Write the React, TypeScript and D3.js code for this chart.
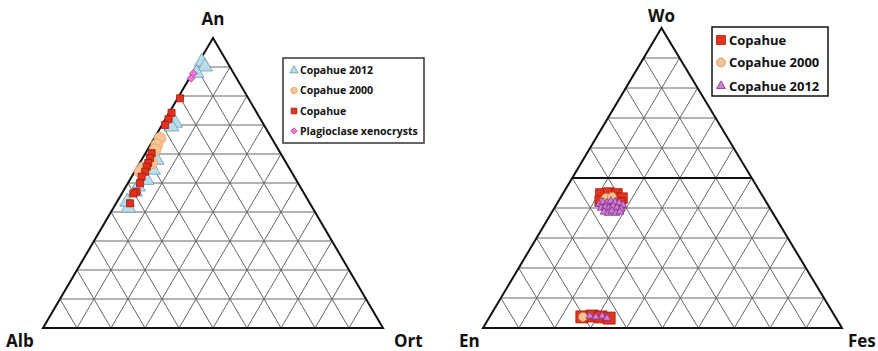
import React, { useEffect, useRef } from "react";
import * as d3 from "d3";

// ---- feldspar diagram data: [An %, Or %]
const fspCopahue2012 = [
  [91.8, 0.8], [90.1, 2.6], [87.9, 1.2], [70.7, 3.5], [69.4, 3.1], [57.9, 4.5],
  [54.5, 5.1], [51.0, 5.0], [48.7, 3.6], [47.0, 3.6], [41.4, 4.4], [43.5, 3.0],
];
const fspCopahue2000 = [
  [65.4, 1.7], [63.1, 1.9], [61.4, 2.2], [56.9, 3.5], [55.2, 1.8], [53.9, 1.6],
];
const fspCopahue = [
  [79.2, 0.7], [74.2, 0.7], [72.0, 0.9], [70.0, 0.9], [60.3, 1.8], [58.6, 2.2],
  [56.9, 2.5], [55.6, 2.7], [53.9, 3.1], [52.2, 2.9], [49.9, 3.6], [47.0, 4.0],
  [46.4, 3.4], [43.0, 4.1],
];
const fspXenocrysts = [[87.8, 0.3], [86.1, 0.5]];

// ---- pyroxene diagram data: [Wo %, Fs %]
const pxCopahue = [
  [44.7, 10.6], [45.0, 12.7], [44.7, 15.1], [43.3, 17.2], [42.3, 11.6], [42.7, 14.7],
  [41.7, 17.4], [3.7, 25.7], [4.0, 28.4], [3.7, 31.0], [3.3, 33.5],
];
const pxCopahue2000 = [[43.3, 12.7], [43.7, 14.2], [41.7, 12.7], [3.7, 26.0]];
const pxCopahue2012 = [
  [41.3, 11.8], [42.0, 12.5], [41.7, 13.8], [42.3, 14.6], [42.0, 15.9], [41.7, 17.2],
  [41.0, 18.6], [40.0, 13.0], [40.3, 14.0], [40.0, 15.2], [40.7, 16.0], [40.0, 17.4],
  [39.7, 18.7], [38.7, 14.5], [38.3, 15.8], [39.0, 16.5], [38.3, 18.0], [38.7, 18.9],
  [4.0, 27.8], [3.7, 29.6], [4.0, 31.2], [3.3, 32.9],
];

const ticks = d3.range(10, 100, 10);

const App = () => {
  const svgRef = useRef(null);

  useEffect(() => {
    const svg = d3.select(svgRef.current);
    svg.selectAll("*").remove();
    const font = "'Open Sans', 'Liberation Sans', sans-serif";

    // barycentric projection built from linear scales
    const makeTri = (L, R, A) => {
      const xr = d3.scaleLinear().domain([0, 100]).range([0, R[0] - L[0]]);
      const xt = d3.scaleLinear().domain([0, 100]).range([0, A[0] - L[0]]);
      const yt = d3.scaleLinear().domain([0, 100]).range([L[1], A[1]]);
      return (top, right) => [L[0] + xr(right) + xt(top), yt(top)];
    };

    const drawGrid = (p, L, R, A, thick) => {
      const g = svg.append("g");
      const seg = (a, b, w, c) =>
        g.append("line")
          .attr("x1", a[0]).attr("y1", a[1]).attr("x2", b[0]).attr("y2", b[1])
          .attr("stroke", c).attr("stroke-width", w);
      ticks.forEach((t) => {
        seg(p(t, 0), p(t, 100 - t), thick === t ? 2.2 : 1, thick === t ? "#111" : "#666");
        seg(p(0, t), p(100 - t, t), 1, "#666");
        seg(p(0, 100 - t), p(100 - t, 0), 1, "#666");
      });
      g.append("polygon")
        .attr("points", [L, R, A].map((d) => d.join(",")).join(" "))
        .attr("fill", "none").attr("stroke", "#111").attr("stroke-width", 2);
    };

    // rot = 45 turns a square into a squat diamond
    const drawPts = (p, data, type, size, fill, stroke, rot = 0) => {
      const sym = d3.symbol().type(type).size(size);
      svg.append("g").selectAll("path").data(data).join("path")
        .attr("transform", (d) => {
          const [x, y] = p(d[0], d[1]);
          return `translate(${x},${y}) rotate(${rot})`;
        })
        .attr("d", sym)
        .attr("fill", fill).attr("stroke", stroke).attr("stroke-width", 0.8);
    };

    const label = (x, y, t, size) =>
      svg.append("text").attr("x", x).attr("y", y).text(t)
        .attr("font-family", font).attr("font-weight", "bold")
        .attr("font-size", size).attr("fill", "#111");

    const legend = (x, y, w, h, items, fs, stroke) => {
      svg.append("rect").attr("x", x).attr("y", y).attr("width", w).attr("height", h)
        .attr("fill", "white").attr("stroke", stroke).attr("stroke-width", 1.5);
      items.forEach((it) => {
        svg.append("path")
          .attr("transform", `translate(${x + it.mx},${y + it.dy}) rotate(${it.rot || 0})`)
          .attr("d", d3.symbol().type(it.type).size(it.size)())
          .attr("fill", it.fill).attr("stroke", it.stroke).attr("stroke-width", 0.8);
        svg.append("text").attr("x", x + it.tx).attr("y", y + it.dy)
          .attr("dy", "0.35em").text(it.text)
          .attr("font-family", font).attr("font-weight", "bold")
          .attr("font-size", fs).attr("fill", "#111");
      });
    };

    // ---------- left: An - Alb - Ort
    const L1 = [43, 328], R1 = [383, 328], A1 = [213, 38];
    const p1 = makeTri(L1, R1, A1);
    drawGrid(p1, L1, R1, A1, null);
    drawPts(p1, fspCopahue2012, d3.symbolTriangle, 95, "#b9dde9", "#6c9cb8");
    drawPts(p1, fspCopahue2000, d3.symbolCircle, 110, "#f9c394", "#e2a36f");
    drawPts(p1, fspCopahue, d3.symbolSquare, 50, "#e2311d", "#a11a10");
    drawPts(p1, fspXenocrysts, d3.symbolSquare, 30, "#f27ad6", "#b23ca0", 45);
    label(213, 25, "An", 17).attr("text-anchor", "middle");
    label(6, 347, "Alb", 17);
    label(394, 347, "Ort", 17);
    legend(283, 58, 141, 85, [
      { text: "Copahue 2012", dy: 12.5, mx: 11, tx: 17, type: d3.symbolTriangle, size: 30, fill: "#b9dde9", stroke: "#6c9cb8" },
      { text: "Copahue 2000", dy: 32.5, mx: 11, tx: 17, type: d3.symbolCircle, size: 32, fill: "#f9c394", stroke: "#e2a36f" },
      { text: "Copahue", dy: 53, mx: 11, tx: 17, type: d3.symbolSquare, size: 32, fill: "#e2311d", stroke: "#a11a10" },
      { text: "Plagioclase xenocrysts", dy: 73, mx: 11, tx: 17, type: d3.symbolSquare, size: 20, fill: "#f27ad6", stroke: "#b23ca0", rot: 45 },
    ], 10.5, "#333");

    // ---------- right: Wo - En - Fs
    const L2 = [483, 328], R2 = [842, 328], A2 = [661.5, 28];
    const p2 = makeTri(L2, R2, A2);
    drawGrid(p2, L2, R2, A2, 50);
    drawPts(p2, pxCopahue.slice(0, 7), d3.symbolSquare, 110, "#e5331c", "#a11a10");
    drawPts(p2, pxCopahue.slice(7), d3.symbolSquare, 144, "#e5331c", "#a11a10");
    drawPts(p2, pxCopahue2000, d3.symbolCircle, 64, "#f9c394", "#b48a55");
    drawPts(p2, pxCopahue2012, d3.symbolTriangle, 26, "#d47ccd", "#7a3290");
    label(661.5, 22, "Wo", 17).attr("text-anchor", "middle");
    label(459, 347, "En", 17);
    label(848, 347, "Fes", 17);
    legend(712, 27, 116, 69, [
      { text: "Copahue", dy: 13, mx: 9, tx: 17, type: d3.symbolSquare, size: 80, fill: "#e5331c", stroke: "#a11a10" },
      { text: "Copahue 2000", dy: 35.5, mx: 9, tx: 17, type: d3.symbolCircle, size: 60, fill: "#f9c394", stroke: "#b48a55" },
      { text: "Copahue 2012", dy: 59, mx: 9, tx: 17, type: d3.symbolTriangle, size: 34, fill: "#d47ccd", stroke: "#7a3290" },
    ], 13, "#111");
  }, []);

  return (
    <svg ref={svgRef} width={878} height={351}
      style={{ position: "absolute", left: 0, top: 0, background: "white" }} />
  );
};

export default App;
